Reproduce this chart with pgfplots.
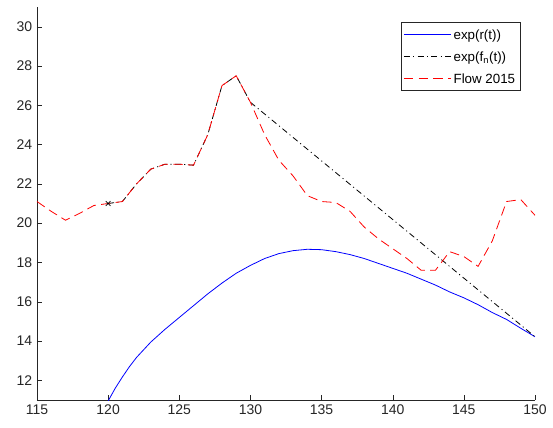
\documentclass[border=0pt]{standalone}
\usepackage{pgfplots}
\pgfplotsset{compat=1.18}
\usepackage{fontspec}
\setmainfont{Liberation Sans}
\definecolor{axgray}{rgb}{0.15,0.15,0.15}
\newcommand{\lgstrut}{\rule[-4.5pt]{0pt}{14pt}}
\begin{document}
\begin{tikzpicture}
\path[use as bounding box] (-27.75pt,-21pt) rectangle (387pt,300pt);
\begin{axis}[
  at={(0pt,0pt)}, anchor=south west,
  scale only axis, width=373.5pt, height=294.75pt,
  xmin=115, xmax=150, ymin=11, ymax=31,
  axis x line*=bottom, axis y line*=left,
  axis line style={axgray,-},
  xtick={115,120,...,150}, ytick={12,14,...,30},
  tick align=inside, major tick length=3.5pt,
  tick style={axgray},
  tick label style={font=\fontsize{10.5}{12}\selectfont, text=axgray},
  /pgf/number format/assume math mode=true,
  legend style={at={(0.970,0.9626)}, anchor=north east, draw=axgray,
    font=\fontsize{10}{12}\selectfont, inner sep=1.5pt, row sep=1.5pt,
    legend cell align=left},
  legend image code/.code={\draw[#1] (0pt,0pt) -- (35pt,0pt);},
]
\addplot[blue, line width=0.6pt] coordinates {
(120,10.95) (120.5,11.6) (121,12.17) (121.5,12.7) (122,13.17) (123,13.95) (124,14.6) (125,15.2) (126,15.8)
(127,16.4) (128,16.95) (129,17.45) (130,17.85) (131,18.2) (132,18.45) (133,18.6)
(134,18.67) (135,18.65) (136,18.55) (137,18.4) (138,18.2) (139,17.95) (140,17.7)
(141,17.45) (142,17.15) (143,16.85) (144,16.5) (145,16.2) (146,15.85) (147,15.45)
(148,15.1) (149,14.65) (150,14.22)};
\addlegendentry{\lgstrut exp(r(t))}
\addplot[black, line width=0.6pt, dash pattern=on 4.5pt off 2.5pt on 0.8pt off 2.5pt] coordinates {
(120,21.0) (121,21.1) (122,22.0) (123,22.75) (124,23.0) (125,23.0) (126,22.95)
(127,24.5) (128,27.0) (129,27.5) (130,26.15) (150,14.22)};
\addlegendentry{\lgstrut exp(f\textsubscript{n}(t))}
\addplot[red, line width=0.6pt, dash pattern=on 7pt off 4pt] coordinates {
(115,21.1) (116,20.6) (117,20.15) (118,20.5) (119,20.9) (120,21.0) (121,21.1)
(122,22.0) (123,22.75) (124,23.0) (125,23.0) (126,22.95) (127,24.5) (128,27.0)
(129,27.5) (130,26.15) (131,24.5) (132,23.2) (133,22.4) (134,21.4) (135,21.1)
(136,21.05) (137,20.6) (138,19.8) (139,19.2) (140,18.7) (141,18.2) (142,17.6)
(143,17.6) (144,18.55) (145,18.3) (146,17.8) (147,19.1) (148,21.1) (149,21.2)
(150,20.4)};
\addlegendentry{\lgstrut Flow 2015}
\addplot[black, only marks, mark=x, mark size=2.5pt, line width=0.5pt, forget plot] coordinates {(120,21.0)};
\end{axis}
\end{tikzpicture}
\end{document}
